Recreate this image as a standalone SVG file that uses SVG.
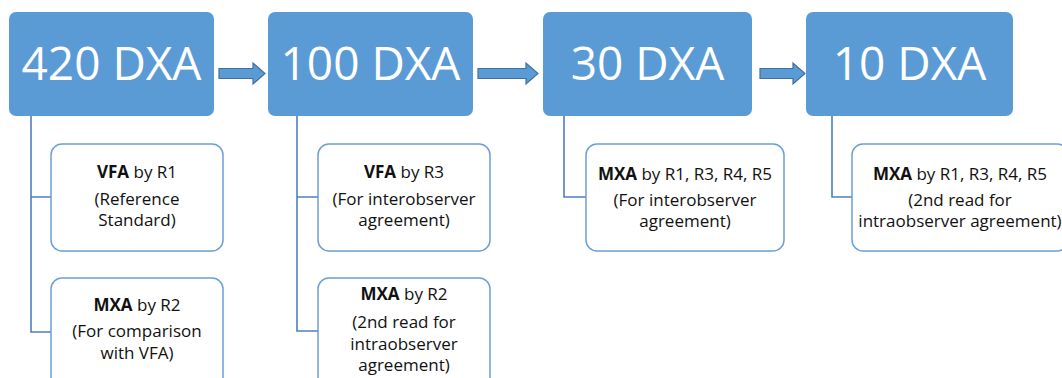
<svg xmlns="http://www.w3.org/2000/svg" width="1062" height="378" viewBox="0 0 1062 378">
  <style>
    .stage { fill: #5B9BD5; }
    .stage-label { font-family: "Open Sans", "Liberation Sans", sans-serif; font-size: 46px; fill: #ffffff; text-anchor: middle; }
    .read { fill: #ffffff; stroke: #6C9FD6; stroke-width: 1.5; }
    .read-text { font-family: "Open Sans", "Liberation Sans", sans-serif; font-size: 17px; fill: #111111; text-anchor: middle; }
    .b { font-weight: bold; }
    .link { fill: none; stroke: #4F7FBE; stroke-width: 1.6; }
    .flow { fill: #5B9BD5; stroke: #41719C; stroke-width: 1.2; }
  </style>

  <rect width="1062" height="378" fill="#ffffff"/>

  <!-- connectors: flow arrows between stages and branch lines to reads -->
  <g id="connectors">
    <path class="flow" d="M219,68.5 H253 V63 L265,73.5 L253,84 V78.5 H219 Z"/>
    <path class="flow" d="M478,68.5 H526 V63 L538,73.5 L526,84 V78.5 H478 Z"/>
    <path class="flow" d="M760,68.5 H793 V63 L805,73.5 L793,84 V78.5 H760 Z"/>

    <path class="link" d="M31,116 V332 H51 M31,197 H51"/>
    <path class="link" d="M297,116 V331 H318 M297,197 H318"/>
    <path class="link" d="M564,116 V197 H586"/>
    <path class="link" d="M832,116 V197 H852"/>
  </g>

  <!-- stages -->
  <g id="stage-420">
    <rect class="stage" x="9" y="12" width="205" height="104" rx="7"/>
    <text class="stage-label" x="111.5" y="80">420 DXA</text>
  </g>
  <g id="stage-100">
    <rect class="stage" x="268" y="12" width="205" height="104" rx="7"/>
    <text class="stage-label" x="370.5" y="80">100 DXA</text>
  </g>
  <g id="stage-30">
    <rect class="stage" x="543" y="12" width="209" height="104" rx="7"/>
    <text class="stage-label" x="647.5" y="80">30 DXA</text>
  </g>
  <g id="stage-10">
    <rect class="stage" x="806" y="12" width="207" height="104" rx="7"/>
    <text class="stage-label" x="909.5" y="80">10 DXA</text>
  </g>

  <!-- reads for the 420 DXA stage -->
  <g id="read-vfa-r1">
    <rect class="read" x="51" y="144" width="172" height="107" rx="11"/>
    <text class="read-text" x="137" y="178"><tspan class="b">VFA</tspan> by R1</text>
    <text class="read-text" x="137" y="205">(Reference</text>
    <text class="read-text" x="137" y="226">Standard)</text>
  </g>
  <g id="read-mxa-r2">
    <rect class="read" x="51" y="278" width="172" height="112" rx="11"/>
    <text class="read-text" x="137" y="311"><tspan class="b">MXA</tspan> by R2</text>
    <text class="read-text" x="137" y="337">(For comparison</text>
    <text class="read-text" x="137" y="359">with VFA)</text>
  </g>

  <!-- reads for the 100 DXA stage -->
  <g id="read-vfa-r3">
    <rect class="read" x="318" y="144" width="172" height="107" rx="11"/>
    <text class="read-text" x="404" y="178"><tspan class="b">VFA</tspan> by R3</text>
    <text class="read-text" x="404" y="205">(For interobserver</text>
    <text class="read-text" x="404" y="226">agreement)</text>
  </g>
  <g id="read-mxa-r2-second">
    <rect class="read" x="318" y="278" width="172" height="112" rx="11"/>
    <text class="read-text" x="404" y="300"><tspan class="b">MXA</tspan> by R2</text>
    <text class="read-text" x="404" y="328">(2nd read for</text>
    <text class="read-text" x="404" y="350">intraobserver</text>
    <text class="read-text" x="404" y="371">agreement)</text>
  </g>

  <!-- reads for the 30 DXA stage -->
  <g id="read-mxa-multi">
    <rect class="read" x="586" y="144" width="198" height="107" rx="11"/>
    <text class="read-text" x="685" y="180"><tspan class="b">MXA</tspan> by R1, R3, R4, R5</text>
    <text class="read-text" x="685" y="206">(For interobserver</text>
    <text class="read-text" x="685" y="227">agreement)</text>
  </g>

  <!-- reads for the 10 DXA stage -->
  <g id="read-mxa-multi-second">
    <rect class="read" x="852" y="144" width="216" height="107" rx="11"/>
    <text class="read-text" x="960" y="180"><tspan class="b">MXA</tspan> by R1, R3, R4, R5</text>
    <text class="read-text" x="960" y="206">(2nd read for</text>
    <text class="read-text" x="960" y="227">intraobserver agreement)</text>
  </g>
</svg>
